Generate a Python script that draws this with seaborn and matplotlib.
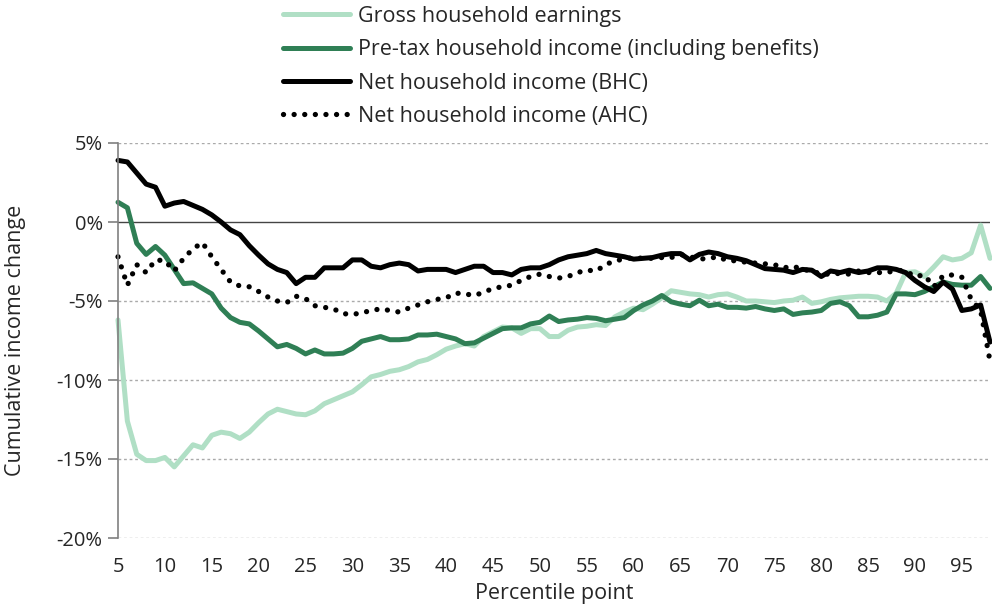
import matplotlib
matplotlib.use("Agg")
import matplotlib.pyplot as plt
import seaborn as sns
import pandas as pd
from matplotlib.ticker import FuncFormatter

# percentile points 5..98
pct = list(range(5, 99))

gross = [-6.2, -12.6, -14.7, -15.1, -15.1, -14.9, -15.5, -14.8, -14.1, -14.3,
         -13.5, -13.3, -13.4, -13.7, -13.3, -12.7, -12.15, -11.85, -12.0, -12.15,
         -12.2, -11.95, -11.5, -11.25, -11.0, -10.75, -10.3, -9.8, -9.65, -9.45,
         -9.35, -9.15, -8.85, -8.7, -8.4, -8.05, -7.85, -7.7, -7.85, -7.25,
         -6.95, -6.65, -6.7, -7.05, -6.75, -6.75, -7.25, -7.25, -6.85, -6.65,
         -6.6, -6.5, -6.55, -6.0, -5.7, -5.45, -5.55, -5.2, -4.8, -4.35,
         -4.45, -4.55, -4.6, -4.75, -4.6, -4.55, -4.75, -5.0, -5.0, -5.05,
         -5.1, -5.0, -4.95, -4.75, -5.15, -5.05, -4.9, -4.8, -4.75, -4.7,
         -4.7, -4.75, -5.0, -4.5, -3.2, -3.15, -3.45, -2.85, -2.2, -2.4,
         -2.3, -1.95, -0.2, -2.3]

pretax = [1.25, 0.9, -1.35, -2.05, -1.55, -2.1, -3.0, -3.9, -3.85, -4.2,
          -4.55, -5.45, -6.05, -6.35, -6.45, -6.9, -7.4, -7.9, -7.75, -8.0,
          -8.35, -8.1, -8.35, -8.35, -8.3, -8.0, -7.55, -7.4, -7.25, -7.45,
          -7.45, -7.4, -7.15, -7.15, -7.1, -7.25, -7.4, -7.7, -7.65, -7.35,
          -7.05, -6.75, -6.7, -6.7, -6.45, -6.35, -5.95, -6.3, -6.2, -6.15,
          -6.05, -6.1, -6.25, -6.15, -6.05, -5.6, -5.25, -5.0, -4.65, -5.05,
          -5.2, -5.3, -4.95, -5.3, -5.2, -5.4, -5.4, -5.45, -5.35, -5.5,
          -5.6, -5.5, -5.85, -5.75, -5.7, -5.6, -5.15, -5.05, -5.3, -6.0,
          -6.0, -5.9, -5.7, -4.55, -4.55, -4.6, -4.4, -4.1, -3.8, -3.95,
          -4.0, -4.0, -3.45, -4.2]

net_bhc = [3.9, 3.8, 3.1, 2.4, 2.2, 1.0, 1.2, 1.3, 1.05, 0.8,
           0.45, 0.0, -0.5, -0.8, -1.5, -2.1, -2.65, -3.0, -3.2, -3.9,
           -3.5, -3.5, -2.9, -2.9, -2.9, -2.4, -2.4, -2.8, -2.9, -2.7,
           -2.6, -2.7, -3.1, -3.0, -3.0, -3.0, -3.2, -3.0, -2.8, -2.8,
           -3.2, -3.2, -3.35, -3.0, -2.9, -2.9, -2.7, -2.4, -2.2, -2.1,
           -2.0, -1.8, -2.0, -2.1, -2.2, -2.35, -2.3, -2.25, -2.1, -2.0,
           -2.0, -2.4, -2.05, -1.9, -2.0, -2.2, -2.3, -2.45, -2.7, -2.95,
           -3.0, -3.05, -3.2, -3.0, -3.05, -3.45, -3.1, -3.2, -3.05, -3.2,
           -3.1, -2.9, -2.9, -3.0, -3.2, -3.7, -4.1, -4.4, -3.8, -4.25,
           -5.6, -5.5, -5.25, -7.6]

net_ahc = [-2.2, -4.0, -2.7, -3.2, -2.4, -2.45, -3.1, -2.3, -1.7, -1.3,
           -2.2, -3.0, -3.8, -4.05, -4.1, -4.4, -4.75, -5.0, -5.1, -4.7,
           -4.85, -5.3, -5.4, -5.5, -5.8, -5.85, -5.75, -5.6, -5.5, -5.6,
           -5.7, -5.45, -5.25, -5.05, -4.9, -4.8, -4.5, -4.55, -4.65, -4.45,
           -4.2, -4.1, -4.0, -3.7, -3.45, -3.3, -3.45, -3.55, -3.45, -3.2,
           -3.05, -3.1, -2.7, -2.45, -2.35, -2.25, -2.3, -2.3, -2.25, -2.25,
           -2.05, -2.2, -2.35, -2.3, -2.2, -2.45, -2.45, -2.55, -2.6, -2.65,
           -2.7, -2.9, -2.8, -3.0, -3.1, -3.3, -3.3, -3.25, -3.3, -3.1,
           -3.2, -3.2, -3.2, -3.05, -3.1, -3.45, -3.35, -4.1, -3.4, -3.35,
           -3.5, -4.9, -5.6, -8.8]

labels = ["Gross household earnings",
          "Pre-tax household income (including benefits)",
          "Net household income (BHC)",
          "Net household income (AHC)"]
colors = ["#b0dfc5", "#2f7f55", "#000000", "#000000"]

sns.set_style("white")
plt.rcParams["font.family"] = ["Open Sans", "DejaVu Sans"]
plt.rcParams["font.size"] = 15

fig = plt.figure(figsize=(9.92, 6.11), dpi=100)
ax = fig.add_axes([118 / 992, 73 / 611, 872 / 992, 395 / 611])

series = [gross, pretax, net_bhc, net_ahc]
for vals, lab, col in zip(series, labels, colors):
    df = pd.DataFrame({"Percentile": pct, "Change": vals})
    sns.lineplot(data=df, x="Percentile", y="Change", ax=ax, color=col,
                 lw=3.6, label=lab, clip_on=False)

# dotted AHC line
ahc_line = ax.get_lines()[3]
ahc_line.set_linestyle((0, (0.01, 2.0)))
ahc_line.set_dash_capstyle("round")
ahc_line.set_linewidth(3.8)

ax.set_xlim(5, 98)
ax.set_ylim(-20, 5)
ax.set_xticks(range(5, 96, 5))
ax.set_yticks(range(-20, 6, 5))
ax.yaxis.set_major_formatter(FuncFormatter(lambda v, p: f"{v:.0f}%"))

for yv in range(-20, 6, 5):
    if yv == 0:
        ax.axhline(0, color="#444444", lw=1.0, zorder=0)
    else:
        ax.axhline(yv, color="#aaaaaa", lw=1.0, ls=(0, (2, 2)), zorder=0)

for s in ["top", "right", "bottom"]:
    ax.spines[s].set_visible(False)
ax.spines["left"].set_color("#808080")
ax.spines["left"].set_linewidth(1.2)
ax.tick_params(axis="y", direction="out", length=7, width=1.2, color="#808080",
               left=True, labelsize=14.5, pad=4)
ax.tick_params(axis="x", length=0, labelsize=14.5, pad=14)

ax.set_xlabel("Percentile point", fontsize=15.5, labelpad=4)
ax.set_ylabel("Cumulative income change", fontsize=15.5, labelpad=22)

ax.get_legend().remove()
handles = ax.get_lines()[:4]
fig.legend(handles, labels, loc="upper left", bbox_to_anchor=(283 / 992, 1 - 6 / 611),
           frameon=False, fontsize=15.5, handlelength=3.1, handletextpad=0.37,
           labelspacing=0.57, borderpad=0, borderaxespad=0)

plt.savefig("out.png", dpi=100)
